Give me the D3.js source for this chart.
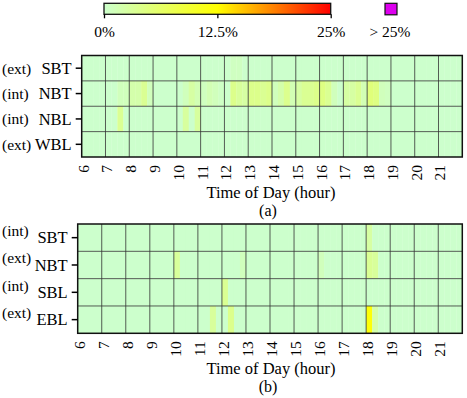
<!DOCTYPE html>
<html><head><meta charset="utf-8">
<script src="https://cdn.jsdelivr.net/npm/d3@7"></script>
<style>
html,body{margin:0;padding:0;background:#fff;}
svg{display:block;font-family:"Liberation Serif","Times New Roman",serif;}
</style></head>
<body><svg id="chart" width="467" height="398"></svg>
<script>
// ---- DATA (percent, 15-minute slots from 6:00 to 22:00, 64 per row) ----
const hourTicks = [6,7,8,9,10,11,12,13,14,15,16,17,18,19,20,21];
const legendTicks = [0, 12.5, 25];
const rowsA = ["SBT","NBT","NBL","WBL"];
const prefixA = ["(ext)","(int)","(int)","(ext)"];
const rowsB = ["SBT","NBT","SBL","EBL"];
const prefixB = ["(int)","(ext)","(int)","(ext)"];

const a_SBT = [
0,0,0,0, 0,0,0,0, 0,0,0,0, 0,0,0,0,
0,0,0,0, 0,0,0,0, 0,0.7,0.7,0, 0,0,0,0,
0,0,0,0, 0,0,0,0, 0,0,0,0, 0,0,0,0,
0,0,0,0, 0,0,0,0, 0,0,0,0, 0,0,0,0];
const a_NBT = [
0,0,0,0, 0,0,1,1, 2,2,3.5,1, 0,0,0,0,
0,1,2.5,1.5, 0.8,1.5,1,0.4, 0,4,3,2.5, 4,4,3.5,4,
1,2,3.8,1.5, 2.5,3.5,3.5,4, 4.5,3.5,1,0, 2.5,2.5,3.5,1.5,
5,4.5,1,0.7, 0,0,0,0, 0,0,0,0, 0,0,0,0];
const a_NBL = [
0,0,0,0, 0,0,3.5,0, 0,0,0,0, 0,0,0,0,
0,2.8,0,2.8, 0,0,0,0, 0,0,0,0, 0,0,0,0,
0,0,0,0, 0,0,0,0, 0,0,0,0, 0,0,0,0,
0,0,0,0, 0,0,0,0, 0,0,0,0, 0,0,0,0];
const a_WBL = [
0,0,0,0, 0,0,0,0, 0,0,0,0, 0,0,0,0,
0,0,0,0, 0,0,0,0, 0,0,0,0, 0,0,0,0,
0,0,0,0, 0,0,0,0, 0,0,0,0, 0,0,0,0,
0,0,0,0, 0,0,0,0, 0,0,0,0, 0,0,0,0];

const b_SBT = [
0,0,0,0, 0,0,0,0, 0,0,0,0, 0,0,0,0,
0,0,0,0, 0,0,0,0, 0,0,0,0, 0,0,0,0,
0,0,0,0, 0,0,0,0, 0,0,0,0, 0,0,0,0,
2.5,0,0,0, 0,0,0,0, 0,0,0,0, 0,0,0,0];
const b_NBT = [
0,0,0,0, 0,0,0,0, 0,0,0,0, 0,0,0,0,
3,0,0,0, 0,0,0,0, 0,0,0,1, 0,0,0,0,
0,0,0,0, 0,0,0,0, 1,0,0,0, 0,0,0,0,
3.5,3,0,0, 0,0,0,0, 0,0,0,0, 0,0,0,0];
const b_SBL = [
0,0,0,0, 0,0,0,0, 0,0,0,0, 0,0,0,0,
0,0,0,0, 0,0,0,0, 3.5,0,0,0, 0,0,0,0,
0,0,0,0, 0,0,0,0, 0,0,0,0, 0,0,0,0,
0,0,0,0, 0,0,0,0, 0,0,0,0, 0,0,0,0];
const b_EBL = [
0,0,0,0, 0,0,0,0, 0,0,0,0, 0,0,0,0,
0,0,0,0, 0,0,3,0, 0,4,0,0, 0,0,0,0,
0,0,0,0, 0,0,0,0, 0,0,0,0, 0,0,0,0,
12,2,0,0, 0,0,0,0, 0,0,0,0, 0,0,0,0];

// ---- SETUP ----
const svg = d3.select("#chart");
const FONT = '"Liberation Serif","Times New Roman",serif';
const color = d3.scaleLinear().domain([0, 12.5, 25]).range(["#ccffcc", "#ffff00", "#ff0000"]).clamp(true);
const overColor = "#dd00ee";
const cval = v => v > 25 ? overColor : color(v);

const panels = [
  {rows: rowsA, prefix: prefixA, data: [a_SBT, a_NBT, a_NBL, a_WBL],
   x0: 81.7, x1: 462.3, y0: 55.5, y1: 157, prefixDy: 0, title: "(a)"},
  {rows: rowsB, prefix: prefixB, data: [b_SBT, b_NBT, b_SBL, b_EBL],
   x0: 77.7, x1: 462.3, y0: 224, y1: 333.3, prefixDy: -7, title: "(b)"}
];

panels.forEach(p => {
  const x = d3.scaleLinear().domain([6, 22]).range([p.x0, p.x1]);
  const y = d3.scaleBand().domain(p.rows).range([p.y0, p.y1]);
  const g = svg.append("g");

  // cells
  p.rows.forEach((r, ri) => {
    g.append("g").selectAll("rect").data(p.data[ri]).join("rect")
      .attr("x", (d, i) => x(6 + i / 4))
      .attr("width", (d, i) => x(6 + (i + 1) / 4) - x(6 + i / 4) + 0.3)
      .attr("y", y(r))
      .attr("height", y.bandwidth())
      .attr("fill", d => cval(d));
  });

  // grid lines
  g.append("g").selectAll("line").data(d3.range(7, 22)).join("line")
    .attr("x1", d => x(d)).attr("x2", d => x(d))
    .attr("y1", p.y0).attr("y2", p.y1)
    .attr("stroke", "#333").attr("stroke-opacity", 0.8).attr("stroke-width", 1);
  g.append("g").selectAll("line").data(p.rows.slice(1)).join("line")
    .attr("x1", p.x0).attr("x2", p.x1)
    .attr("y1", d => y(d)).attr("y2", d => y(d))
    .attr("stroke", "#333").attr("stroke-opacity", 0.8).attr("stroke-width", 1);
  g.append("rect").attr("x", p.x0).attr("y", p.y0)
    .attr("width", p.x1 - p.x0).attr("height", p.y1 - p.y0)
    .attr("fill", "none").attr("stroke", "#111").attr("stroke-width", 1.5);

  // x axis labels
  const xa = g.append("g").attr("transform", `translate(0,${p.y1})`)
    .call(d3.axisBottom(x).tickValues(hourTicks).tickSize(0).tickFormat(d3.format("d")));
  xa.select(".domain").remove();
  xa.selectAll("text")
    .attr("transform", "rotate(-90)")
    .attr("x", -8).attr("y", 1).attr("dy", "0.35em")
    .style("text-anchor", "end")
    .style("font-family", FONT).style("font-size", "15.5px").attr("fill", "#000");

  // y axis
  const ya = g.append("g").attr("transform", `translate(${p.x0},0)`)
    .call(d3.axisLeft(y).tickSize(6).tickPadding(4));
  ya.select(".domain").remove();
  ya.selectAll(".tick line").attr("stroke", "#000").attr("stroke-width", 1.5);
  ya.selectAll(".tick text").style("font-family", FONT).style("font-size", "16.5px")
    .attr("fill", "#000").attr("dy", "0.35em");
  ya.selectAll(".tick").append("text")
    .attr("x", -p.x0 + 2).attr("y", p.prefixDy).attr("dy", "0.35em")
    .style("text-anchor", "start")
    .style("font-family", FONT).style("font-size", "15.5px").attr("fill", "#000")
    .text((d, i) => p.prefix[i]);

  // titles
  const cx = 271;
  g.append("text").attr("x", cx).attr("y", p.y1 + 40.5)
    .attr("text-anchor", "middle").style("font-size", "16.5px").text("Time of Day (hour)");
  g.append("text").attr("x", cx - 3).attr("y", p.y1 + 58.5)
    .attr("text-anchor", "middle").style("font-size", "16px").text(p.title);
});

// ---- LEGEND ----
const lx = d3.scaleLinear().domain([0, 25]).range([104, 330.7]);
const defs = svg.append("defs");
const grad = defs.append("linearGradient").attr("id", "cb").attr("x1", "0%").attr("x2", "100%");
d3.range(0, 1.0001, 0.05).forEach(t => {
  grad.append("stop").attr("offset", (t * 100) + "%").attr("stop-color", color(t * 25));
});
svg.append("rect").attr("x", lx(0)).attr("y", 3.3).attr("width", lx(25) - lx(0)).attr("height", 11)
  .attr("fill", "url(#cb)").attr("stroke", "#111").attr("stroke-width", 1.3);
const la = svg.append("g").attr("transform", "translate(0,14.3)")
  .call(d3.axisBottom(lx).tickValues(legendTicks).tickSize(4).tickPadding(8).tickFormat(d => d + "%"));
la.select(".domain").remove();
la.selectAll(".tick line").attr("stroke", "#000").attr("stroke-width", 1.3);
la.selectAll("text").style("font-family", FONT).style("font-size", "15.5px").attr("fill", "#000");

svg.append("rect").attr("x", 385).attr("y", 3.3).attr("width", 12).attr("height", 11.5)
  .attr("fill", overColor).attr("stroke", "#111").attr("stroke-width", 1.2);
svg.append("text").attr("x", 390).attr("y", 37.3).attr("text-anchor", "middle")
  .style("font-size", "15.5px").text("> 25%");
</script></body></html>
